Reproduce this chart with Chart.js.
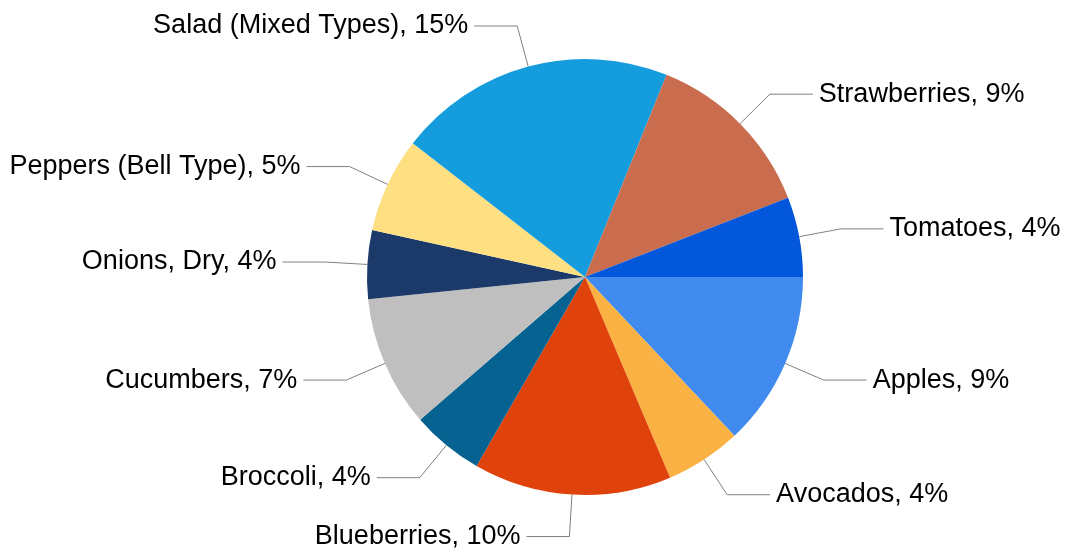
<!DOCTYPE html>
<html>
<head>
<meta charset="utf-8">
<script src="https://cdn.jsdelivr.net/npm/chart.js@4/dist/chart.umd.min.js"></script>
<style>
  html, body { margin: 0; padding: 0; background: #fff; }
  #grafica { display: block; }
</style>
</head>
<body>
<canvas id="grafica" width="1067" height="552"></canvas>
<script>
var categorias = ["Apples", "Avocados", "Blueberries", "Broccoli", "Cucumbers", "Onions, Dry", "Peppers (Bell Type)", "Salad (Mixed Types)", "Strawberries", "Tomatoes"]
// porcentajes estimados de la imagen (las etiquetas muestran el valor redondeado)
var valores = [9.2, 4.0, 10.4, 3.8, 6.9, 3.6, 5.0, 14.6, 9.2, 4.2]
var colores = ["#418BEF", "#FBB244", "#E0420B", "#066391", "#BFBFBF", "#1B3A6A", "#FEE083", "#149CDD", "#C96D4E", "#0357DA"]

// etiquetas fuera del pastel con linea guia
var etiquetasFuera = {
    id: 'etiquetasFuera',
    afterDatasetsDraw: function (chart) {
        var ctx = chart.ctx
        var meta = chart.getDatasetMeta(0)
        ctx.save()
        ctx.font = '27px "Liberation Sans", Arial, sans-serif'
        ctx.textBaseline = 'middle'
        meta.data.forEach(function (arco, i) {
            var p = arco.getProps(['x', 'y', 'startAngle', 'endAngle', 'outerRadius'], true)
            var medio = (p.startAngle + p.endAngle) / 2
            var c = Math.cos(medio), s = Math.sin(medio)
            var x0 = p.x + c * p.outerRadius, y0 = p.y + s * p.outerRadius
            var x1 = p.x + c * (p.outerRadius + 42), y1 = p.y + s * (p.outerRadius + 42)
            var lado = c >= 0 ? 1 : -1
            var x2 = x1 + lado * 43

            ctx.strokeStyle = '#808080'
            ctx.lineWidth = 1
            ctx.beginPath()
            ctx.moveTo(x0, y0)
            ctx.lineTo(x1, y1)
            ctx.lineTo(x2, y1)
            ctx.stroke()

            ctx.fillStyle = '#000'
            ctx.textAlign = lado > 0 ? 'left' : 'right'
            ctx.fillText(categorias[i] + ', ' + Math.round(valores[i]) + '%', x2 + lado * 6, y1)
        })
        ctx.restore()
    }
}

var ctx = document.getElementById('grafica').getContext('2d')

new Chart(ctx, {
    type: 'pie',
    data: {
        labels: categorias,
        datasets: [{
            data: valores,
            backgroundColor: colores,
            borderWidth: 0
        }]
    },
    options: {
        responsive: false,
        animation: false,
        rotation: 90,
        layout: {
            padding: { left: 367, right: 264, top: 59, bottom: 57 }
        },
        plugins: {
            legend: { display: false },
            tooltip: { enabled: false }
        }
    },
    plugins: [etiquetasFuera]
});
</script>
</body>
</html>
